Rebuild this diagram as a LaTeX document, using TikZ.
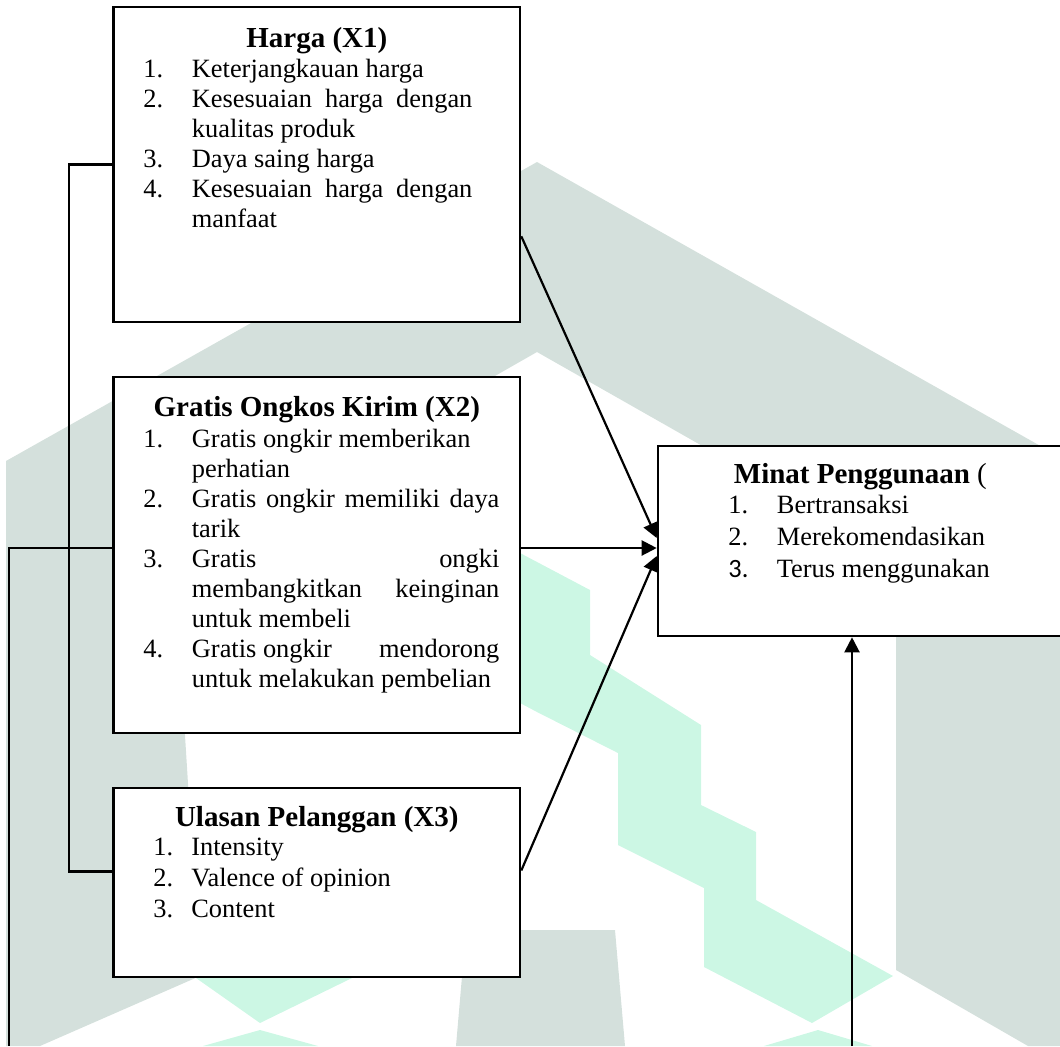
\documentclass[tikz,border=0pt]{standalone}
\usepackage{fontspec}
\setmainfont{Liberation Serif}
\newfontfamily\angkasans{Carlito}
\usetikzlibrary{arrows.meta}

\definecolor{abu}{RGB}{212,224,220}
\definecolor{hijau}{RGB}{204,247,228}

\newlength{\indenbutir}
\newcommand{\butir}[2]{\noindent\hangindent=\indenbutir\hangafter=1\makebox[\indenbutir][l]{#1}#2\par}
\tolerance=9999
\hbadness=10000
\hyphenpenalty=10000

\begin{document}
\begin{tikzpicture}[x=0.5pt,y=-0.5pt,
    kotak/.style={draw, line width=1.3pt, fill=white, inner sep=0pt},
    judul/.style={font=\fontsize{14.5}{17}\selectfont\bfseries, inner sep=0pt},
    isi/.style={font=\fontsize{13.2}{15}\selectfont, inner sep=0pt, align=justify},
    garis/.style={line width=1.1pt},
    panah/.style={line width=1.1pt, -{Triangle[length=7.5pt,width=7.5pt]}}]

            \useasboundingbox (0,0) rectangle (1060,1046);
            \clip (0,0) rectangle (1060,1046);

            %---------------- LATAR (LOGO) ----------------
            \fill[abu]
            (6,461) -- (537,162) -- (1060,457) -- (1060,1046)
            -- (1028,1046) -- (896,970) -- (896,556) -- (537,352)
            -- (174,559) -- (200,976) -- (40,1046) -- (6,1046) -- cycle;

            \fill[abu]
            (466,930) -- (615,930) -- (625,1046) -- (456,1046) -- cycle;

            \fill[hijau]
            (520,553) -- (590,590) -- (590,655) -- (701,725) -- (701,805)
            -- (756,832) -- (756,900) -- (893,976) -- (812,1023) -- (704,967)
            -- (704,888) -- (618,845) -- (618,753) -- (537,712) -- (520,703) -- cycle;

            \fill[hijau] (196,978) -- (352,978) -- (260,1023) -- cycle;
            \fill[hijau] (260,1030) -- (318,1046) -- (203,1046) -- cycle;
            \fill[hijau] (818,1030) -- (872,1046) -- (764,1046) -- cycle;

            %---------------- KOTAK ----------------
            \node[kotak, minimum width=203.2pt, minimum height=157.5pt]
            (harga) at (316.8,164.5) {};
            \node[kotak, minimum width=203.2pt, minimum height=178pt]
            (gratis) at (316.8,555) {};
            \node[kotak, minimum width=203.2pt, minimum height=94.5pt]
            (ulasan) at (316.8,882.5) {};
            \node[kotak, minimum width=231pt, minimum height=95pt]
            (minat) at (889,541) {};

            %---------------- TEKS ----------------
            \node[judul, anchor=base] (harga judul) at (316.8,47) {Harga (X1)};
            \node[isi, text width=164.5pt, anchor=base west]
            (harga isi) at (143,77)
            {\setlength{\indenbutir}{24.25pt}%
             \butir{1.}{Keterjangkauan harga}%
             \butir{2.}{Kesesuaian harga dengan\linebreak kualitas produk}%
             \butir{3.}{Daya saing harga}%
             \butir{4.}{Kesesuaian harga dengan\linebreak manfaat}};

            \node[judul, anchor=base] (gratis judul) at (316.8,416) {Gratis Ongkos Kirim (X2)};
            \node[isi, text width=178pt, anchor=base west]
            (gratis isi) at (143,447)
            {\setlength{\indenbutir}{24.25pt}%
             \butir{1.}{Gratis ongkir memberikan\newline perhatian}%
             \butir{2.}{Gratis ongkir memiliki daya\linebreak tarik}%
             \butir{3.}{Gratis\hfill ongki\newline membangkitkan\hfill keinginan\newline untuk membeli}%
             \butir{4.}{Gratis ongkir\hfill mendorong\newline untuk melakukan pembelian}};

            \node[judul, anchor=base] (ulasan judul) at (316.8,826) {Ulasan Pelanggan (X3)};
            \node[isi, text width=178pt, anchor=base west, font=\fontsize{13.2}{15.7}\selectfont]
            (ulasan isi) at (153,855)
            {\setlength{\indenbutir}{19pt}%
             \butir{1.}{Intensity}%
             \butir{2.}{Valence of opinion}%
             \butir{3.}{Content}};

            \node[judul, anchor=base west] (minat judul) at (733.5,483)
            {Minat Penggunaan {\mdseries (}};
            \node[isi, text width=150pt, anchor=base west, font=\fontsize{13.2}{16}\selectfont]
            (minat isi) at (728,513)
            {\setlength{\indenbutir}{24.25pt}%
             \butir{1.}{Bertransaksi}%
             \butir{2.}{Merekomendasikan}%
             \butir{{\angkasans 3.}}{Terus menggunakan}};

            %---------------- GARIS ----------------
            \draw[garis] (harga.west) -- ++(-43.6,0) |- ([yshift=5.5pt]ulasan.west);

            \coordinate (ujung kiri) at (9.3,1046);
            \draw[garis] ([yshift=3.5pt]gratis.west) -| (ujung kiri);

            %---------------- PANAH ----------------
            \draw[panah] ([yshift=43.5pt]harga.south east) -- ([yshift=1.5pt]minat.west);
            \draw[panah] ([yshift=3.5pt]gratis.east) -- ([yshift=3.5pt]gratis.east -| minat.west);
            \draw[panah] ([yshift=6pt]ulasan.east) -- ([yshift=-7.5pt]minat.west);

            \coordinate (ujung bawah) at (852,1046);
            \draw[panah] (ujung bawah) -- (ujung bawah |- minat.south);

\end{tikzpicture}
\end{document}
